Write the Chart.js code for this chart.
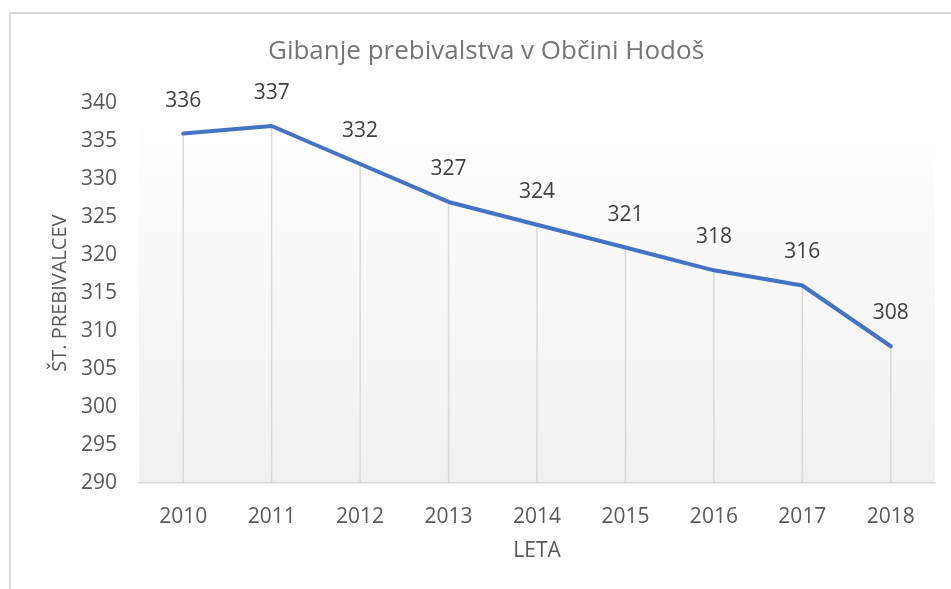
<!DOCTYPE html>
<html lang="sl">
<head>
  <meta charset="UTF-8">
  <title>Gibanje prebivalstva v Občini Hodoš</title>
  <script src="https://cdn.jsdelivr.net/npm/chart.js"></script>
  <style>
    body {
      margin: 0;
      background: #fff;
      overflow: hidden;
    }
    .frame {
      position: absolute;
      left: 9px;
      top: 12px;
      width: 1000px;
      height: 700px;
      border-left: 2px solid #d9d9d9;
      border-top: 2px solid #d9d9d9;
    }
    #chart {
      position: absolute;
      left: 0;
      top: 0;
    }
  </style>
</head>
<body>
  <div class="frame"></div>
  <canvas id="chart" width="951" height="589"></canvas>

  <script>
    const years = ['2010', '2011', '2012', '2013', '2014', '2015', '2016', '2017', '2018'];
    const population = [336, 337, 332, 327, 324, 321, 318, 316, 308];
    const yMin = 290;
    const yMax = 340;
    const yStep = 5;

    const fontFamily = '"Open Sans", "Noto Sans", sans-serif';

    // light grey to white fill behind the plot
    const plotBackground = {
      id: 'plotBackground',
      beforeDraw(chart) {
        const { ctx, chartArea: a } = chart;
        const g = ctx.createLinearGradient(0, a.top, 0, a.bottom);
        g.addColorStop(0, '#ffffff');
        g.addColorStop(1, '#f0f0f0');
        ctx.save();
        ctx.fillStyle = g;
        ctx.fillRect(a.left, a.top, a.right - a.left, a.bottom - a.top);
        ctx.restore();
      }
    };

    // vertical lines from each point down to the axis
    const dropLines = {
      id: 'dropLines',
      beforeDatasetsDraw(chart) {
        const { ctx, chartArea: a } = chart;
        const meta = chart.getDatasetMeta(0);
        ctx.save();
        ctx.strokeStyle = '#d9d9d9';
        ctx.lineWidth = 1.5;
        meta.data.forEach(pt => {
          ctx.beginPath();
          ctx.moveTo(pt.x, pt.y);
          ctx.lineTo(pt.x, a.bottom);
          ctx.stroke();
        });
        ctx.restore();
      }
    };

    const valueLabels = {
      id: 'valueLabels',
      afterDatasetsDraw(chart) {
        const { ctx } = chart;
        const meta = chart.getDatasetMeta(0);
        const values = chart.data.datasets[0].data;
        ctx.save();
        ctx.fillStyle = '#404040';
        ctx.font = '21px ' + fontFamily;
        ctx.textAlign = 'center';
        ctx.textBaseline = 'middle';
        meta.data.forEach((pt, i) => {
          ctx.fillText(values[i], pt.x, pt.y - 33);
        });
        ctx.restore();
      }
    };

    new Chart(document.getElementById('chart'), {
      type: 'line',
      data: {
        labels: years,
        datasets: [{
          data: population,
          borderColor: '#4472c4',
          borderWidth: 4,
          pointRadius: 0,
          tension: 0,
          borderJoinStyle: 'round',
          borderCapStyle: 'round'
        }]
      },
      options: {
        responsive: false,
        animation: false,
        layout: {
          padding: { left: 37, right: 16, top: 0, bottom: 0 }
        },
        plugins: {
          legend: { display: false },
          tooltip: { enabled: false },
          title: {
            display: true,
            text: 'Gibanje prebivalstva v Občini Hodoš',
            color: '#757575',
            font: { family: fontFamily, size: 26, weight: 'normal' },
            padding: { top: 36, bottom: 36 }
          }
        },
        scales: {
          x: {
            offset: true,
            afterFit(scale) { scale.height = 106; },
            grid: { display: false, drawTicks: false },
            border: { display: true, color: '#d9d9d9', width: 1.5 },
            ticks: {
              color: '#595959',
              padding: 21,
              font: { family: fontFamily, size: 21 }
            },
            title: {
              display: true,
              text: 'LETA',
              color: '#595959',
              font: { family: fontFamily, size: 21 },
              padding: { top: 0, bottom: 25 }
            }
          },
          y: {
            min: yMin,
            max: yMax,
            afterFit(scale) { scale.width = 102; },
            grid: { display: false, drawTicks: false },
            border: { display: false },
            ticks: {
              stepSize: yStep,
              color: '#595959',
              padding: 22,
              font: { family: fontFamily, size: 21 }
            },
            title: {
              display: true,
              text: 'ŠT. PREBIVALCEV',
              color: '#595959',
              font: { family: fontFamily, size: 20 },
              padding: { top: 11, bottom: 0 }
            }
          }
        }
      },
      plugins: [plotBackground, dropLines, valueLabels]
    });
  </script>
</body>
</html>
